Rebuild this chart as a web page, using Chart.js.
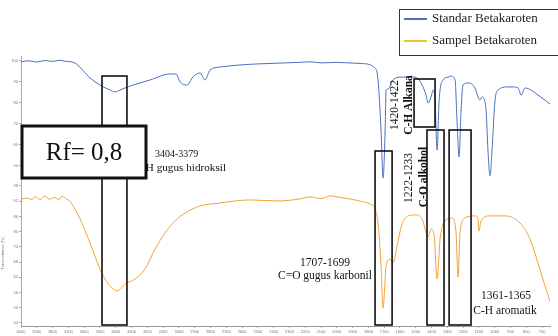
<!DOCTYPE html>
<html>
<head>
<meta charset="utf-8">
<title>FTIR Betakaroten</title>
<script src="https://cdn.jsdelivr.net/npm/chart.js@4.4.0/dist/chart.umd.min.js"></script>
<style>
    html, body { margin: 0; padding: 0; background: #fff; }
    #wrap { width: 558px; height: 336px; position: relative; }
</style>
</head>
<body>
<div id="wrap"><canvas id="chartIR"></canvas></div>
<script>
(function () {
    "use strict";

    // Data
    const waveStandar = [4000, 3950, 3900, 3850, 3800, 3760, 3721, 3658, 3563, 3500, 3436, 3405, 3373, 3310, 3183, 3056, 3018,
        2993, 2949, 2911, 2866, 2835, 2803, 2740, 2613, 2500, 2360, 2250, 2163, 2100, 2000, 1900, 1847, 1758, 1739, 1720,
        1707, 1694, 1688, 1676, 1644, 1593, 1505, 1467, 1435, 1422, 1403, 1390, 1378, 1365, 1352, 1327, 1296, 1277, 1251,
        1239, 1226, 1213, 1201, 1169, 1125, 1106, 1093, 1081, 1055, 1043, 1030, 1017, 998, 979, 916, 884, 852, 833, 808,
        770, 726, 682, 650];
    const transStandar = [99.6, 100.1, 99.5, 100.2, 99.8, 100.3, 99.9, 99.0, 91.9, 88.5, 86.1, 85.2, 86.1, 88.0, 90.9, 93.8, 93.8,
        90.0, 88.5, 92.3, 94.3, 90.9, 95.7, 97.1, 98.1, 98.6, 99.0, 99.3, 99.6, 99.1, 99.3, 99.0, 98.8, 96.7, 90.9, 67.0,
        44.0, 67.0, 86.1, 86.6, 90.9, 92.3, 92.3, 89.5, 83.7, 79.9, 82.8, 86.1, 81.3, 57.4, 81.3, 90.9, 92.3, 92.8, 90.9,
        71.8, 54.1, 76.6, 88.5, 89.5, 87.1, 82.8, 81.3, 82.8, 76.6, 57.4, 45.0, 57.4, 81.3, 86.1, 87.6, 87.6, 87.1, 83.7, 87.1,
        86.1, 83.7, 81.3, 79.4];

    const waveSampel = [4000, 3960, 3930, 3911, 3880, 3848, 3820, 3785, 3760, 3740, 3710, 3690, 3658, 3626, 3563, 3500, 3468,
        3436, 3392, 3341, 3278, 3215, 3151, 3088, 3025, 2961, 2866, 2740, 2550, 2373, 2233, 2170, 2100, 2043, 1980, 1916,
        1850, 1790, 1758, 1739, 1720, 1707, 1688, 1663, 1644, 1619, 1587, 1549, 1505, 1460, 1422, 1403, 1384, 1365, 1346,
        1315, 1270, 1245, 1232, 1220, 1188, 1125, 1106, 1100, 1087, 1030, 935, 840, 777, 726, 682, 650];
    const transSampel = [92.9, 93.2, 92.6, 93.8, 92.7, 94.0, 92.8, 93.5, 92.6, 94.0, 92.8, 92.0, 88.9, 85.0, 75.5, 65.3, 61.3,
        58.6, 56.6, 59.3, 61.3, 65.3, 73.1, 79.5, 84.2, 87.3, 90.1, 91.3, 92.5, 92.1, 92.9, 93.7, 93.0, 94.1, 93.5, 92.9,
        92.0, 90.9, 88.9, 83.4, 66.4, 49.9, 66.4, 69.2, 67.6, 74.3, 83.0, 86.2, 86.6, 85.0, 77.9, 81.0, 78.7, 61.3, 77.1,
        84.2, 85.4, 79.5, 62.1, 79.5, 85.4, 86.2, 85.0, 80.2, 84.2, 86.2, 86.2, 83.4, 77.1, 67.6, 58.6, 52.6];

    // Tick labels
    const waveTicks = [4000, 3900, 3800, 3700, 3600, 3500, 3400, 3300, 3200, 3100, 3000, 2900, 2800, 2700, 2600, 2500, 2400,
        2300, 2200, 2100, 2000, 1900, 1800, 1700, 1600, 1500, 1400, 1300, 1200, 1100, 1000, 900, 800, 700];
    const standarTicks = [100, 95, 90, 85, 80, 75, 70, 65, 60, 55, 50, 45];
    const sampelTicks = [98, 96, 94, 92, 90, 88, 86, 84, 82, 80, 78, 76, 74, 72, 70, 68, 66, 64, 62, 60, 58, 56, 54, 52,
        50, 48, 46, 44];

    const seriesNames = ["Standar Betakaroten", "Sampel Betakaroten"];

    // Overlay layout (boxes are anchored on wavenumbers, y in pixels)
    const bandBoxes = [
        { from: 3487, to: 3329, top: 76, bottom: 325 },
        { from: 1758, to: 1650, top: 151, bottom: 325 },
        { from: 1511, to: 1378, top: 79, bottom: 127 },
        { from: 1429, to: 1321, top: 130, bottom: 325 },
        { from: 1289, to: 1150, top: 130, bottom: 325 },
    ];
    const flatNotes = [
        { text: "3404-3379", x: 155, y: 154, size: 10, align: "left" },
        { text: "O-H gugus hidroksil", x: 134, y: 168, size: 11.2, align: "left" },
        { text: "1707-1699", x: 325, y: 263, size: 11.5, align: "center" },
        { text: "C=O gugus karbonil", x: 325, y: 276, size: 11.5, align: "center" },
        { text: "1361-1365", x: 506, y: 296, size: 11.5, align: "center" },
        { text: "C-H aromatik", x: 505, y: 311, size: 11.5, align: "center" },
    ];
    const turnedNotes = [
        { text: "1420-1422", x: 395, y: 105, size: 11.5, bold: false },
        { text: "C-H Alkana", x: 409, y: 105, size: 11.5, bold: true },
        { text: "1222-1233", x: 409, y: 178, size: 11.5, bold: false },
        { text: "C-O alkohol", x: 424, y: 177, size: 11.5, bold: true },
    ];

    const SERIF = "'Liberation Serif', 'DejaVu Serif', serif";
    const BLUE = "#4a72c0";
    const ORANGE = "#f2a33a";

    Chart.defaults.font.family = "'Liberation Sans', Arial, sans-serif";

    function toPoints(xs, ys) {
        return xs.map((v, i) => ({ x: v, y: ys[i] }));
    }

    function fixedTicks(list) {
        return (axis) => { axis.ticks = list.map((v) => ({ value: v })); };
    }

    const tickStyle = {
        font: { size: 4 },
        color: "#777",
        padding: 1,
        callback: (v) => String(v),
    };

    // ============================
    // Overlay: boxes, notes, Rf, legend
    // ============================
    const overlay = {
        id: "overlay",
        afterDatasetsDraw(chart) {
            const ctx = chart.ctx;
            const x = chart.scales.x;
            ctx.save();

            ctx.strokeStyle = "#111";
            ctx.lineWidth = 1.6;
            bandBoxes.forEach((b) => {
                const l = x.getPixelForValue(b.from);
                const r = x.getPixelForValue(b.to);
                ctx.strokeRect(l, b.top, r - l, b.bottom - b.top);
            });

            ctx.fillStyle = "#111";
            ctx.textBaseline = "middle";
            flatNotes.forEach((n) => {
                ctx.font = `${n.size}px ${SERIF}`;
                ctx.textAlign = n.align;
                ctx.fillText(n.text, n.x, n.y);
            });

            turnedNotes.forEach((n) => {
                ctx.save();
                ctx.translate(n.x, n.y);
                ctx.rotate(-Math.PI / 2);
                ctx.font = `${n.bold ? "bold " : ""}${n.size}px ${SERIF}`;
                ctx.textAlign = "center";
                ctx.fillText(n.text, 0, 0);
                ctx.restore();
            });

            // Rf box
            ctx.fillStyle = "#fff";
            ctx.fillRect(22, 126, 124, 52);
            ctx.lineWidth = 3;
            ctx.strokeRect(22, 126, 124, 52);
            ctx.fillStyle = "#111";
            ctx.font = `25px ${SERIF}`;
            ctx.textAlign = "center";
            ctx.fillText("Rf= 0,8", 84, 153);

            // Legend
            ctx.fillStyle = "#fff";
            ctx.fillRect(399, 9, 170, 46);
            ctx.lineWidth = 1;
            ctx.strokeStyle = "#333";
            ctx.strokeRect(399.5, 9.5, 170, 46);
            chart.data.datasets.forEach((ds, i) => {
                const ly = 19 + i * 22;
                ctx.strokeStyle = ds.legendColor;
                ctx.lineWidth = 2;
                ctx.beginPath();
                ctx.moveTo(404, ly);
                ctx.lineTo(427, ly);
                ctx.stroke();
                ctx.fillStyle = "#222";
                ctx.font = `13px ${SERIF}`;
                ctx.textAlign = "left";
                ctx.fillText(ds.label, 432, ly);
            });

            ctx.restore();
        },
    };

    // ============================
    // Chart
    // ============================
    new Chart(document.getElementById("chartIR"), {
        type: "line",
        data: {
            datasets: [
                {
                    label: seriesNames[0],
                    data: toPoints(waveStandar, transStandar),
                    yAxisID: "yBlue",
                    borderColor: BLUE,
                    legendColor: BLUE,
                    borderWidth: 1,
                    pointRadius: 0,
                    cubicInterpolationMode: "monotone",
                },
                {
                    label: seriesNames[1],
                    data: toPoints(waveSampel, transSampel),
                    yAxisID: "yOrange",
                    borderColor: ORANGE,
                    legendColor: "#f7c02e",
                    borderWidth: 1,
                    pointRadius: 0,
                    cubicInterpolationMode: "monotone",
                },
            ],
        },
        options: {
            responsive: true,
            maintainAspectRatio: false,
            animation: false,
            layout: { padding: { top: 56, right: 8, left: 0, bottom: 0 } },
            plugins: {
                legend: { display: false },
                tooltip: { enabled: false },
            },
            scales: {
                x: {
                    type: "linear",
                    reverse: true,
                    min: 650,
                    max: 4000,
                    afterBuildTicks: fixedTicks(waveTicks),
                    afterFit: (a) => { a.height = 10; },
                    ticks: Object.assign({ autoSkip: false, maxRotation: 0, minRotation: 0 }, tickStyle),
                    grid: { drawOnChartArea: false, tickLength: 2, color: "#aaa" },
                    border: { color: "#999" },
                },
                yOrange: {
                    type: "linear",
                    position: "left",
                    stack: "ir",
                    stackWeight: 145,
                    min: 42.77,
                    max: 99.97,
                    afterBuildTicks: fixedTicks(sampelTicks),
                    afterFit: (a) => { a.width = 21; },
                    ticks: tickStyle,
                    grid: { drawOnChartArea: false, tickLength: 2, color: "#aaa" },
                    border: { color: "#aaa" },
                    title: { display: true, text: "Transmittance [%]", font: { size: 4 }, color: "#777", padding: 0 },
                },
                yBlue: {
                    type: "linear",
                    position: "left",
                    stack: "ir",
                    stackWeight: 125,
                    min: 42.58,
                    max: 102.39,
                    afterBuildTicks: fixedTicks(standarTicks),
                    afterFit: (a) => { a.width = 21; },
                    ticks: tickStyle,
                    grid: { drawOnChartArea: false, tickLength: 2, color: "#aaa" },
                    border: { color: "#aaa" },
                },
            },
        },
        plugins: [overlay],
    });
})();
</script>
</body>
</html>
